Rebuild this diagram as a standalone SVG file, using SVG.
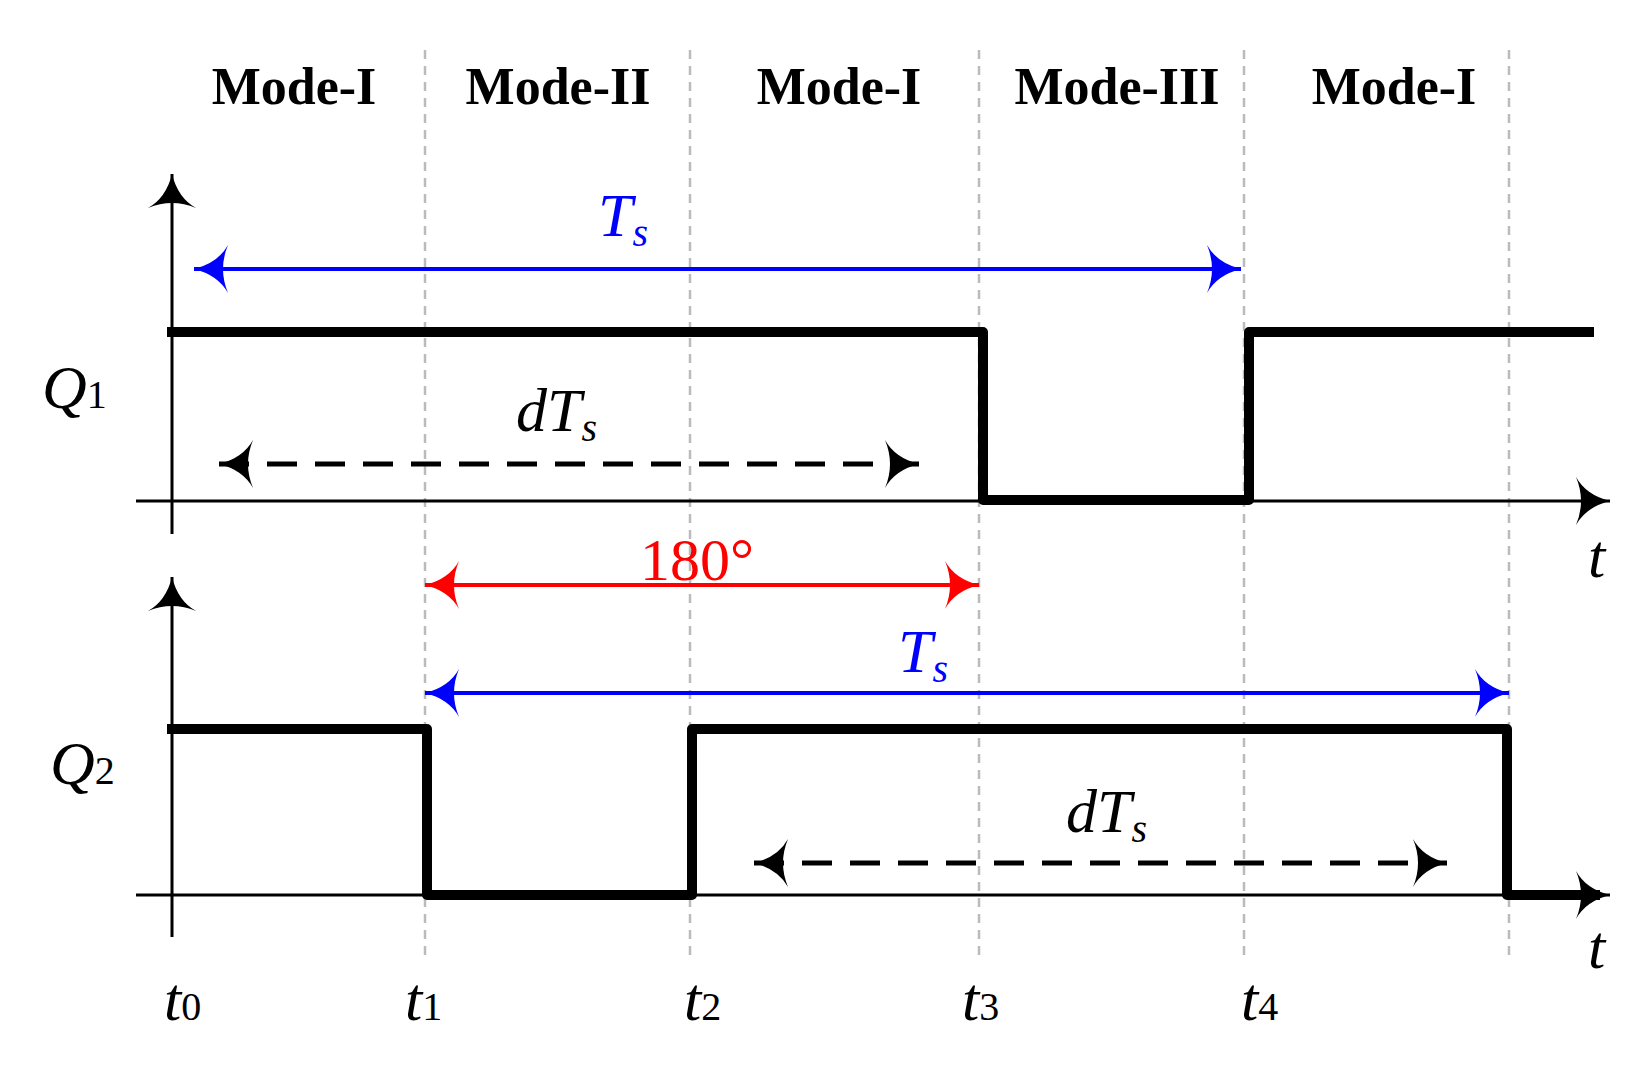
<svg xmlns="http://www.w3.org/2000/svg" width="1652" height="1083" viewBox="0 0 1652 1083">
<style>
.mode{font-family:"Liberation Serif",serif;font-weight:bold;font-size:52px;text-anchor:middle}
.it{font-family:"Liberation Serif",serif;font-style:italic;font-size:62px}
.sub{font-size:40px}
.grid{stroke:#bbb;stroke-width:2.5;stroke-dasharray:9 7;fill:none}
.wave{stroke:#000;stroke-width:10;fill:none;stroke-linejoin:round}
.axis{stroke:#000;stroke-width:3;fill:none}
.hd{stroke:none;stroke-dasharray:none}
</style>
<defs>
<marker id="ak" markerUnits="userSpaceOnUse" markerWidth="44" markerHeight="50" viewBox="-38 -25 44 50" refX="0" refY="0" orient="auto-start-reverse"><path class="hd" d="M0,0 Q-24,6 -34,24 Q-24,0 -34,-24 Q-24,-6 0,0Z" fill="#000"/></marker>
<marker id="ab" markerUnits="userSpaceOnUse" markerWidth="44" markerHeight="50" viewBox="-38 -25 44 50" refX="0" refY="0" orient="auto-start-reverse"><path class="hd" d="M0,0 Q-24,6 -34,24 Q-24,0 -34,-24 Q-24,-6 0,0Z" fill="#00f"/></marker>
<marker id="ar" markerUnits="userSpaceOnUse" markerWidth="44" markerHeight="50" viewBox="-38 -25 44 50" refX="0" refY="0" orient="auto-start-reverse"><path class="hd" d="M0,0 Q-24,6 -34,24 Q-24,0 -34,-24 Q-24,-6 0,0Z" fill="#f00"/></marker>
</defs>
<rect width="1652" height="1083" fill="#fff"/>
<g id="grid">
<line class="grid" x1="425" y1="50" x2="425" y2="962"/>
<line class="grid" x1="690" y1="50" x2="690" y2="962"/>
<line class="grid" x1="979" y1="50" x2="979" y2="962"/>
<line class="grid" x1="1244" y1="50" x2="1244" y2="962"/>
<line class="grid" x1="1509" y1="50" x2="1509" y2="962"/>
</g>
<g id="modes">
<text class="mode" x="294" y="104">Mode-I</text>
<text class="mode" x="558" y="104">Mode-II</text>
<text class="mode" x="839" y="104">Mode-I</text>
<text class="mode" x="1117" y="104">Mode-III</text>
<text class="mode" x="1394" y="104">Mode-I</text>
</g>
<g id="connectors">
<line class="axis" x1="172" y1="534" x2="172" y2="174" marker-end="url(#ak)"/>
<line class="axis" x1="136" y1="501" x2="1610" y2="501" marker-end="url(#ak)"/>
<line class="axis" x1="172" y1="937" x2="172" y2="577" marker-end="url(#ak)"/>
<line class="axis" x1="136" y1="895" x2="1610" y2="895" marker-end="url(#ak)"/>
<line x1="194" y1="269" x2="1241" y2="269" stroke="#00f" stroke-width="4" marker-start="url(#ab)" marker-end="url(#ab)"/>
<line x1="425" y1="693" x2="1509" y2="693" stroke="#00f" stroke-width="4" marker-start="url(#ab)" marker-end="url(#ab)"/>
<line x1="425" y1="585" x2="979" y2="585" stroke="#f00" stroke-width="4" marker-start="url(#ar)" marker-end="url(#ar)"/>
<line x1="219" y1="464" x2="919" y2="464" stroke="#000" stroke-width="5" stroke-dasharray="30 18" marker-start="url(#ak)" marker-end="url(#ak)"/>
<line x1="754" y1="863" x2="1447" y2="863" stroke="#000" stroke-width="5" stroke-dasharray="30 18" marker-start="url(#ak)" marker-end="url(#ak)"/>
</g>
<g id="q1wave"><polyline class="wave" points="167,332 983,332 983,500 1249,500 1249,332 1594,332"/></g>
<g id="q2wave"><polyline class="wave" points="167,729 427,729 427,895 692,895 692,729 1507,729 1507,895 1600,895"/></g>
<g id="labels">
<text class="it" x="42" y="408">Q<tspan class="sub" font-style="normal">1</tspan></text>
<text class="it" x="50" y="784">Q<tspan class="sub" font-style="normal">2</tspan></text>
<text class="it" x="598" y="236" fill="#00f">T<tspan class="sub" dy="10">s</tspan></text>
<text class="it" x="898" y="672" fill="#00f">T<tspan class="sub" dy="10">s</tspan></text>
<text class="it" x="516" y="431">dT<tspan class="sub" dy="10">s</tspan></text>
<text class="it" x="1066" y="832">dT<tspan class="sub" dy="10">s</tspan></text>
<text x="697" y="580" fill="#f00" font-family="Liberation Serif,serif" font-size="60" text-anchor="middle">180°</text>
<text class="it" x="1588" y="577">t</text>
<text class="it" x="1588" y="968">t</text>
<text class="it" x="164" y="1020">t<tspan class="sub" font-style="normal">0</tspan></text>
<text class="it" x="405" y="1020">t<tspan class="sub" font-style="normal">1</tspan></text>
<text class="it" x="684" y="1020">t<tspan class="sub" font-style="normal">2</tspan></text>
<text class="it" x="962" y="1020">t<tspan class="sub" font-style="normal">3</tspan></text>
<text class="it" x="1241" y="1020">t<tspan class="sub" font-style="normal">4</tspan></text>
</g>
</svg>
